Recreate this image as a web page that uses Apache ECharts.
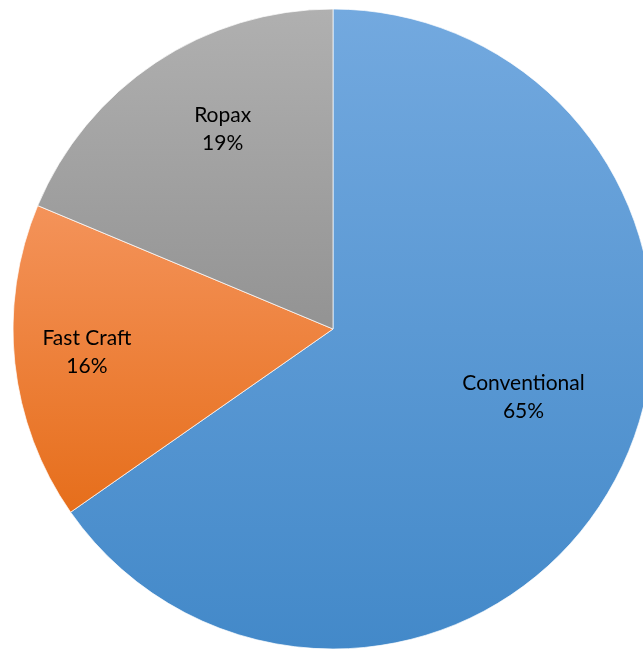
<!DOCTYPE html>
<html>
<head>
<meta charset="utf-8">
<script src="https://cdn.jsdelivr.net/npm/echarts@6/dist/echarts.min.js"></script>
<style>html,body{margin:0;padding:0;background:#fff}#c{width:643px;height:649px}</style>
</head>
<body>
<div id="c"></div>
<script>
const categories = ['Conventional', 'Fast Craft', 'Ropax'];
const values = [65.3, 16.0, 18.7];
const topColors = ['#73a9df', '#f4935a', '#b0b0b0'];
const bottomColors = ['#4389c9', '#e66e1b', '#939393'];
const labelOffsets = [[46, -7], [-84, 6], [-20, -64]];

const chart = echarts.init(document.getElementById('c'));
chart.setOption({
  animation: false,
  series: [{
    type: 'pie',
    center: [333, 329],
    radius: 320,
    startAngle: 90,
    clockwise: true,
    avoidLabelOverlap: false,
    labelLine: { show: false },
    itemStyle: { borderColor: 'rgba(255,255,255,0.7)', borderWidth: 1 },
    label: {
      show: true,
      position: 'inside',
      formatter: p => p.name + '\n' + Math.round(p.value) + '%',
      fontFamily: 'Lato',
      fontSize: 21,
      lineHeight: 28,
      color: '#000'
    },
    data: categories.map((n, i) => ({
      name: n,
      value: values[i],
      itemStyle: {
        color: new echarts.graphic.LinearGradient(0, 0, 0, 1, [
          { offset: 0, color: topColors[i] },
          { offset: 1, color: bottomColors[i] }
        ])
      },
      label: { offset: labelOffsets[i] }
    }))
  }]
});
</script>
</body>
</html>
